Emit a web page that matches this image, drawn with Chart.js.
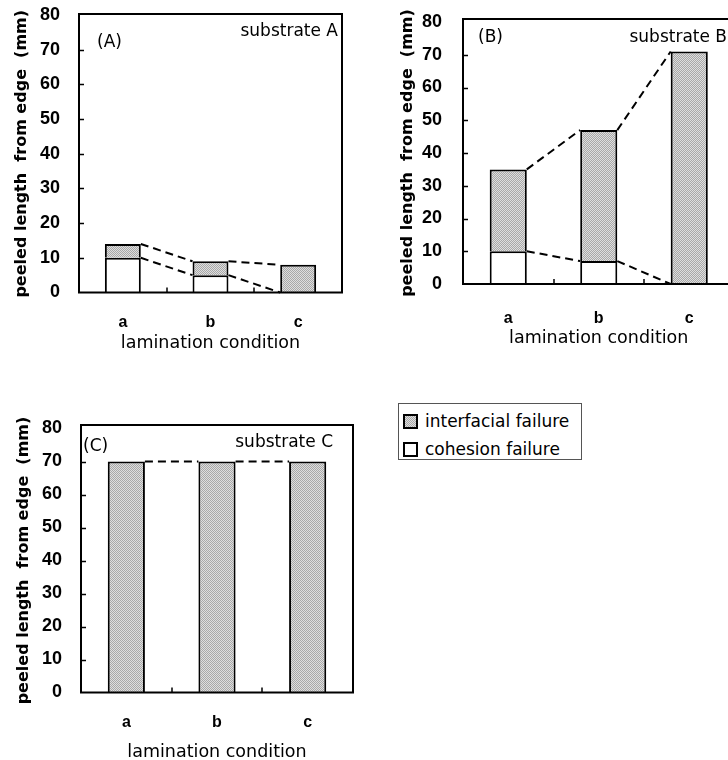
<!DOCTYPE html>
<html>
<head>
<meta charset="utf-8">
<script src="https://cdn.jsdelivr.net/npm/chart.js@4"></script>
<style>
  html, body { margin: 0; padding: 0; background: #fff; overflow: hidden; width: 728px; height: 760px; }
  canvas { position: absolute; }
  #legend { position: absolute; left: 398px; top: 403px; width: 184px; height: 57px; box-sizing: border-box;
    border: 1px solid #555; font: 17px "DejaVu Sans", sans-serif; color: #000; }
  #legend .item { position: absolute; left: 4px; height: 20px; line-height: 20px; white-space: nowrap; }
  #legend .sw { display: inline-block; width: 15px; height: 15px; box-sizing: border-box; border: 2px solid #000;
    vertical-align: -2px; margin-right: 7px; }
</style>
</head>
<body>
<canvas id="chartA" width="365" height="365" style="left:0;top:0"></canvas>
<canvas id="chartB" width="360" height="360" style="left:385px;top:0"></canvas>
<canvas id="chartC" width="365" height="370" style="left:0;top:400px"></canvas>
<div id="legend">
  <div class="item" style="top:7px"><span class="sw" style="background:repeating-conic-gradient(#a8a8a8 0 25%, #dedede 0 50%) 0 0/2px 2px"></span>interfacial failure</div>
  <div class="item" style="top:35px"><span class="sw" style="background:#fff"></span>cohesion failure</div>
</div>
<script>
// values (mm)
const conditions = ['a', 'b', 'c']
const yTicks = [0, 10, 20, 30, 40, 50, 60, 70, 80]

const cohesionA = [10, 5, 0]
const interfacialA = [4, 4, 8]

const cohesionB = [10, 7, 0]
const interfacialB = [25, 40, 71]

const cohesionC = [0, 0, 0]
const interfacialC = [70, 70, 70]

// stippled grey like the print
function stipple () {
  const c = document.createElement('canvas')
  c.width = 2; c.height = 2
  const g = c.getContext('2d')
  g.fillStyle = '#dedede'; g.fillRect(0, 0, 2, 2)
  g.fillStyle = '#a8a8a8'; g.fillRect(0, 0, 1, 1); g.fillRect(1, 1, 1, 1)
  return g.createPattern(c, 'repeat')
}
const grey = stipple()

// dashed lines joining the bar tops and the cohesion/interfacial borders
const connectors = {
  id: 'connectors',
  afterDatasetsDraw (chart) {
    const ctx = chart.ctx
    const y = chart.scales.y
    const bars = chart.getDatasetMeta(1).data
    const coh = chart.data.datasets[0].data
    const inter = chart.data.datasets[1].data
    const line = (x1, v1, x2, v2) => {
      ctx.beginPath()
      ctx.moveTo(x1, y.getPixelForValue(v1))
      ctx.lineTo(x2, y.getPixelForValue(v2))
      ctx.stroke()
    }
    ctx.save()
    ctx.setLineDash([8, 5])
    ctx.lineWidth = 2
    ctx.strokeStyle = '#000'
    for (let i = 0; i < coh.length - 1; i++) {
      const x1 = bars[i].x + bars[i].width / 2
      const x2 = bars[i + 1].x - bars[i + 1].width / 2
      line(x1, coh[i] + inter[i], x2, coh[i + 1] + inter[i + 1])
      if (coh[i] || coh[i + 1]) line(x1, coh[i], x2, coh[i + 1])
    }
    ctx.restore()
  }
}

// box around the plot, short inward ticks, panel labels
const frame = {
  id: 'frame',
  afterDatasetsDraw (chart, args, opts) {
    const ctx = chart.ctx
    const a = chart.chartArea
    const y = chart.scales.y
    const x = chart.scales.x
    ctx.save()
    ctx.strokeStyle = '#000'
    ctx.lineWidth = 1.5
    ctx.beginPath()
    yTicks.slice(1, -1).forEach(v => {
      const py = Math.round(y.getPixelForValue(v)) + 0.5
      ctx.moveTo(a.left, py); ctx.lineTo(a.left + 5, py)
    })
    for (let i = 1; i < conditions.length; i++) {
      const px = Math.round((x.getPixelForValue(i - 1) + x.getPixelForValue(i)) / 2)
      ctx.moveTo(px, a.bottom); ctx.lineTo(px, a.bottom - 5)
    }
    ctx.stroke()
    ctx.lineWidth = 2
    ctx.strokeRect(a.left, opts.frameTop + a.top, a.right - a.left, a.bottom - a.top - opts.frameTop)
    ctx.fillStyle = '#000'
    ctx.font = '17px "DejaVu Sans", sans-serif'
    ctx.textBaseline = 'middle'
    ctx.textAlign = 'left'
    ctx.fillText(opts.tag, a.left + opts.tagX, a.top + opts.tagY)
    ctx.textAlign = 'right'
    ctx.fillText(opts.name, a.right - opts.nameX, a.top + opts.nameY)
    ctx.restore()
  }
}

function panel (id, cohesion, interfacial, g) {
  return new Chart(document.getElementById(id), {
    type: 'bar',
    data: {
      labels: conditions,
      datasets: [{
        label: 'cohesion failure',
        data: cohesion,
        backgroundColor: '#fff',
        borderColor: '#000',
        borderWidth: 2
      }, {
        label: 'interfacial failure',
        data: interfacial,
        backgroundColor: grey,
        borderColor: '#000',
        borderWidth: 2
      }]
    },
    options: {
      responsive: false,
      animation: false,
      devicePixelRatio: 1,
      categoryPercentage: 1,
      barPercentage: 0.41,
      layout: { padding: { top: g.top, right: g.right, left: 0, bottom: 0 } },
      plugins: {
        legend: { display: false },
        tooltip: { enabled: false },
        frame: { tag: g.tag, name: g.name, tagX: g.tagX, tagY: g.tagY, nameX: g.nameX, nameY: g.nameY, frameTop: g.frameTop }
      },
      scales: {
        x: {
          stacked: true,
          grid: { display: false, drawTicks: false },
          border: { display: false },
          ticks: { color: '#000', padding: g.xTickPad, font: { family: 'Liberation Sans', weight: 'bold', size: 16 } },
          title: {
            display: true,
            text: 'lamination condition',
            color: '#000',
            padding: { top: 0, bottom: g.xTitlePad },
            font: { family: 'DejaVu Sans', size: 17.5 }
          },
          afterFit: s => { s.height = g.xH; s.paddingLeft = 0; s.paddingRight = 0 }
        },
        y: {
          stacked: true,
          min: 0,
          max: 80,
          grid: { display: false, drawTicks: false },
          border: { display: false },
          afterBuildTicks: s => { s.ticks = yTicks.map(v => ({ value: v })) },
          ticks: { color: '#000', padding: g.yTickPad, font: { family: 'Liberation Sans', weight: 'bold', size: 18 } },
          title: {
            display: true,
            text: 'peeled length  from edge  (mm)',
            color: '#000',
            padding: { top: g.yTitlePad, bottom: 0 },
            font: { family: 'DejaVu Sans', weight: 'bold', size: 16 }
          },
          afterFit: s => { s.width = g.yW; s.paddingTop = 0; s.paddingBottom = 0 }
        }
      }
    },
    plugins: [frame, connectors]
  })
}

panel('chartA', cohesionA, interfacialA, {
  top: 15, right: 23, yW: 79, xH: 72.5, yTickPad: 19, yTitlePad: 12, xTickPad: 20, xTitlePad: 11,
  tag: '(A)', name: 'substrate A', tagX: 18, tagY: 28, nameX: 4, nameY: 17, frameTop: -1
})
panel('chartB', cohesionB, interfacialB, {
  top: 22, right: 10.5, yW: 78, xH: 76, yTickPad: 21, yTitlePad: 13, xTickPad: 25, xTitlePad: 11.5,
  tag: '(B)', name: 'substrate B', tagX: 15, tagY: 16, nameX: 7.5, nameY: 16, frameTop: -3
})
panel('chartC', cohesionC, interfacialC, {
  top: 28.5, right: 12, yW: 81, xH: 77.5, yTickPad: 19, yTitlePad: 14, xTickPad: 20.5, xTitlePad: 7.5,
  tag: '(C)', name: 'substrate C', tagX: 2, tagY: 18.5, nameX: 20, nameY: 14.5, frameTop: -3.5
})
</script>
</body>
</html>
